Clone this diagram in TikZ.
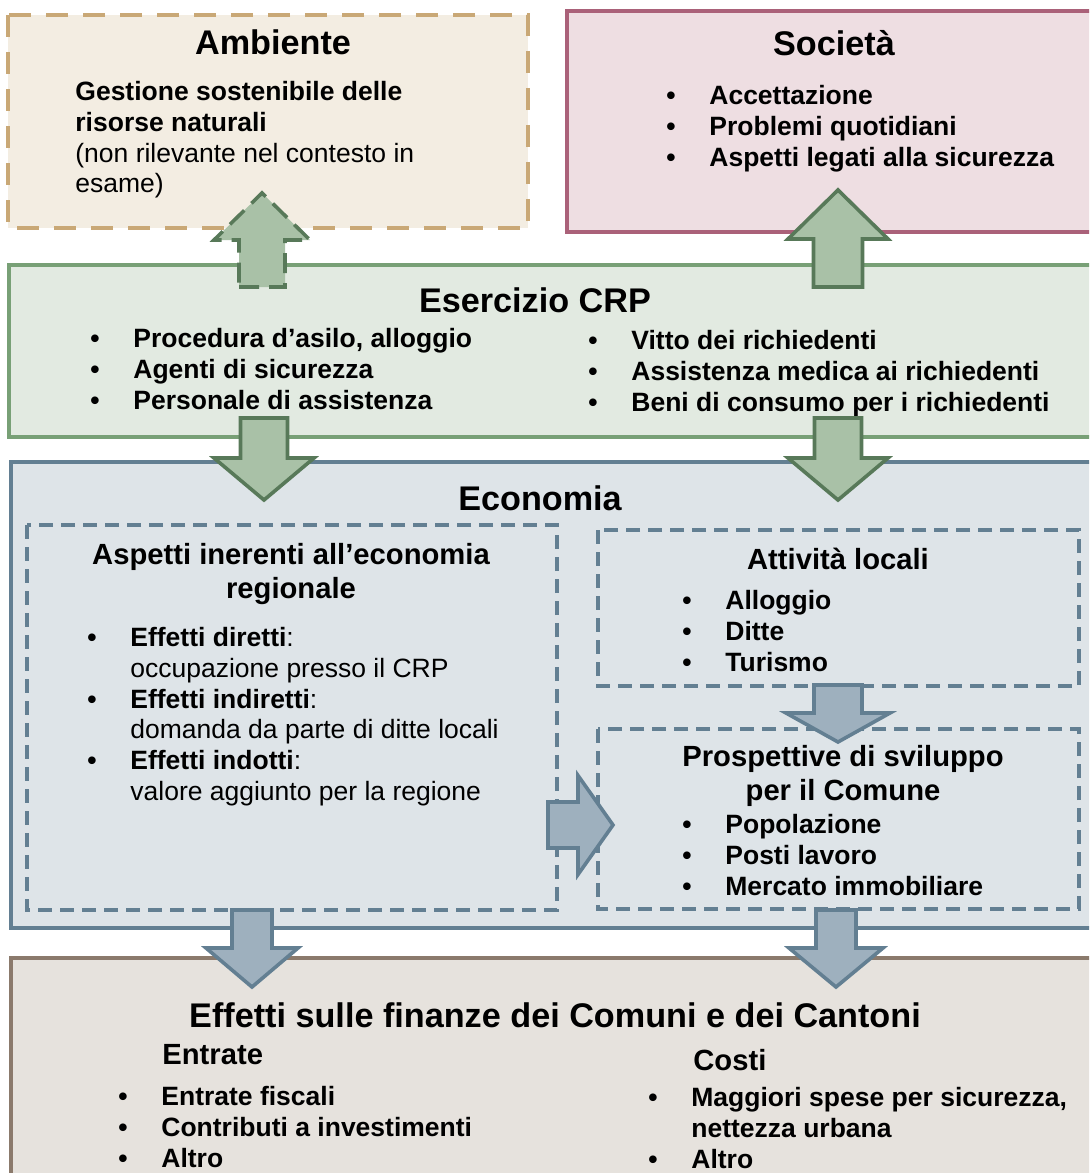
\documentclass[tikz,border=0pt]{standalone}
\usepackage{fontspec}
\setmainfont{Liberation Sans}

\definecolor{ambfill}{RGB}{243,237,226}
\definecolor{ambline}{RGB}{201,168,118}
\definecolor{socfill}{RGB}{238,222,226}
\definecolor{socline}{RGB}{170,97,121}
\definecolor{crpfill}{RGB}{226,234,225}
\definecolor{crpline}{RGB}{120,160,118}
\definecolor{grnarrow}{RGB}{169,193,167}
\definecolor{grnline}{RGB}{88,121,89}
\definecolor{ecofill}{RGB}{222,228,232}
\definecolor{ecoline}{RGB}{99,127,146}
\definecolor{bluarrow}{RGB}{158,176,190}
\definecolor{finfill}{RGB}{230,226,221}
\definecolor{finline}{RGB}{139,122,108}

\newcommand{\bul}{\makebox[21.5pt][l]{\textbullet}}
\newcommand{\gap}{\hspace*{21.5pt}}

% block arrow, vertical: style, x, tail, head base, tip, half shaft, half head
\newcommand{\vblock}[7]{%
  \draw[#1] ({#2-#6},#3) -- ({#2+#6},#3) -- ({#2+#6},#4) -- ({#2+#7},#4)
    -- (#2,#5) -- ({#2-#7},#4) -- ({#2-#6},#4) -- cycle;}
% block arrow, horizontal: style, y, tail, head base, tip, half shaft, half head
\newcommand{\hblock}[7]{%
  \draw[#1] (#3,{#2-#6}) -- (#4,{#2-#6}) -- (#4,{#2-#7}) -- (#5,#2)
    -- (#4,{#2+#7}) -- (#4,{#2+#6}) -- (#3,{#2+#6}) -- cycle;}

\begin{document}
\begin{tikzpicture}[x=0.5pt, y=-0.5pt,
  every node/.style={inner sep=0pt, font=\fontsize{13.25}{15.4}\selectfont\bfseries},
  title/.style={anchor=base, font=\fontsize{17.1}{20}\selectfont\bfseries},
  subtitle/.style={anchor=base, align=center, font=\fontsize{14.6}{17}\selectfont\bfseries},
  list/.style={anchor=base west, align=left},
  box/.style={line width=2pt},
  inbox/.style={line width=2pt, draw=ecoline, dash pattern=on 7pt off 4pt},
  grnblock/.style={fill=grnarrow, draw=grnline, line width=1.8pt},
  blublock/.style={fill=bluarrow, draw=ecoline, line width=1.8pt}]
\useasboundingbox (0,0) rectangle (1089,1173);
\clip (0,0) rectangle (1089,1173);

% boxes
\draw[box, fill=ambfill, draw=ambline, dash pattern=on 11pt off 7.5pt] (8,15) rectangle (528,228);
\draw[box, fill=socfill, draw=socline] (567,11) rectangle (1100,232);
\draw[box, fill=crpfill, draw=crpline] (9,265) rectangle (1100,437);
\draw[box, fill=ecofill, draw=ecoline] (11,462) rectangle (1100,928);
\draw[inbox] (27,525) rectangle (557,910);
\draw[inbox] (598,530) rectangle (1079,686);
\draw[inbox] (598,729) rectangle (1079,909);
\draw[box, fill=finfill, draw=finline] (11,958) rectangle (1100,1190);

% Ambiente (list nodes sit on the baseline of their last line)
\node[title] (amb) at (273,54) {Ambiente};
\node[list] (ambtxt) at (75,192.9) {Gestione sostenibile delle\\risorse naturali\\
  \mdseries(non rilevante nel contesto in\\\mdseries esame)};

% Societa
\node[title] (soc) at (834,55) {Società};
\node[list] (soclist) at (666,166.1) {\bul Accettazione\\\bul Problemi quotidiani\\
  \bul Aspetti legati alla sicurezza};

% Esercizio CRP
\node[title] (crp) at (535,312) {Esercizio CRP};
\node[list] (crpleft) at (90,409.1) {\bul Procedura d’asilo, alloggio\\
  \bul Agenti di sicurezza\\\bul Personale di assistenza};
\node[list] (crpright) at (588,411.1) {\bul Vitto dei richiedenti\\
  \bul Assistenza medica ai richiedenti\\\bul Beni di consumo per i richiedenti};

% Economia
\node[title] (eco) at (540,510) {Economia};
\node[subtitle] (asp) at (291,598.5) {Aspetti inerenti all’economia\\regionale};
\node[list] (asplist) at (87,800.5) {\bul Effetti diretti{\mdseries:}\\
  \gap{\mdseries occupazione presso il CRP}\\
  \bul Effetti indiretti{\mdseries:}\\
  \gap{\mdseries domanda da parte di ditte locali}\\
  \bul Effetti indotti{\mdseries:}\\
  \gap{\mdseries valore aggiunto per la regione}};
\node[subtitle] (att) at (838,569.5) {Attività locali};
\node[list] (attlist) at (682,671.1) {\bul Alloggio\\\bul Ditte\\\bul Turismo};
\node[subtitle] (pro) at (843,800.5) {Prospettive di sviluppo\\per il Comune};
\node[list] (prolist) at (682,895.1) {\bul Popolazione\\\bul Posti lavoro\\
  \bul Mercato immobiliare};

% Finanze
\node[title] (fin) at (555,1027) {Effetti sulle finanze dei Comuni e dei Cantoni};
\node[subtitle, anchor=base west] (ent) at (162,1064.5) {Entrate};
\node[subtitle, anchor=base west] (cos) at (693,1070.5) {Costi};
\node[list] (entlist) at (118,1167.1) {\bul Entrate fiscali\\
  \bul Contributi a investimenti\\\bul Altro};
\node[list] (coslist) at (648,1168.1) {\bul Maggiori spese per sicurezza,\\
  \gap nettezza urbana\\\bul Altro};

% arrows
\vblock{grnblock, draw=grnline, dash pattern=on 10pt off 5pt}{262}{287}{240}{193}{23}{48}
\vblock{grnblock}{838}{287}{239}{190}{24.5}{50}
\vblock{grnblock}{264}{418}{458}{500}{23.5}{50}
\vblock{grnblock}{838}{418}{458}{500}{23.5}{50}
\vblock{blublock}{838}{685}{713}{742}{24}{52}
\hblock{blublock}{825}{548}{578}{613}{23}{49.5}
\vblock{blublock}{252}{910}{948}{987}{20}{46}
\vblock{blublock}{836}{910}{948}{987}{20}{47}
\end{tikzpicture}
\end{document}
